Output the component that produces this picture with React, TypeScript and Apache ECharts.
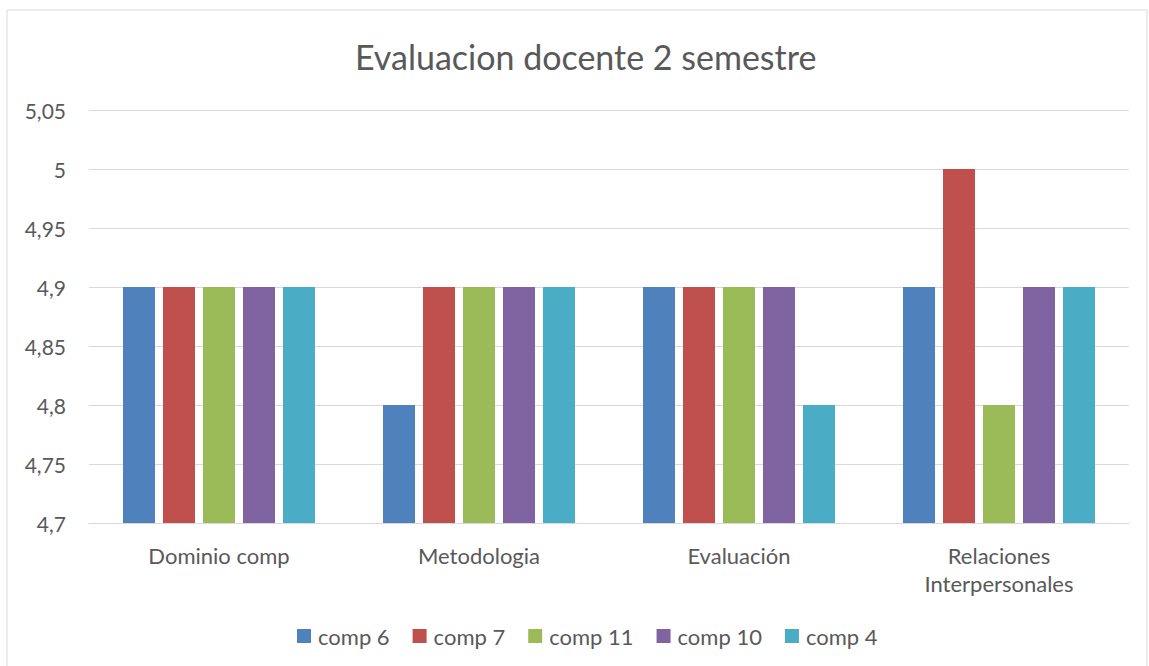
import React, { useEffect, useRef } from "react";
import * as echarts from "echarts";

const categories = ["Dominio comp", "Metodologia", "Evaluación", "Relaciones\nInterpersonales"];
const seriesNames = ["comp 6", "comp 7", "comp 11", "comp 10", "comp 4"];
const comp6 = [4.9, 4.8, 4.9, 4.9];
const comp7 = [4.9, 4.9, 4.9, 5.0];
const comp11 = [4.9, 4.9, 4.9, 4.8];
const comp10 = [4.9, 4.9, 4.9, 4.9];
const comp4 = [4.9, 4.9, 4.8, 4.9];
const seriesValues = [comp6, comp7, comp11, comp10, comp4];
const colors = ["#4F81BD", "#C0504D", "#9BBB59", "#8064A2", "#4BACC6"];

export default function App() {
  const ref = useRef<HTMLDivElement>(null);
  useEffect(() => {
    const chart = echarts.init(ref.current!, undefined, { renderer: "svg" });
    const font = "Lato, 'Open Sans', sans-serif";
    chart.setOption({
      animation: false,
      backgroundColor: "#ffffff",
      textStyle: { fontFamily: font },
      title: {
        text: "Evaluacion docente 2 semestre",
        left: 350,
        top: 34,
        textStyle: { fontSize: 34, fontWeight: "normal", color: "#595959", fontFamily: font },
      },
      graphic: [
        {
          type: "rect",
          shape: { x: 7, y: 10, width: 1140, height: 670 },
          style: { fill: "none", stroke: "#d9d9d9", lineWidth: 1 },
          silent: true,
          z: -1,
        },
      ],
      legend: {
        bottom: 19,
        left: 297,
        itemWidth: 14,
        itemHeight: 14,
        itemGap: 23,
        icon: "rect",
        padding: 0,
        textStyle: { fontSize: 22, color: "#595959", fontFamily: font, padding: [0, 0, 0, 2] },
        data: seriesNames,
      },
      grid: { left: 89, right: 20, top: 110, bottom: 143 },
      xAxis: {
        type: "category",
        data: categories,
        axisLine: { lineStyle: { color: "#d9d9d9", width: 1 } },
        axisTick: { show: false },
        axisLabel: { fontSize: 22, color: "#595959", margin: 18, lineHeight: 28, fontFamily: font },
      },
      yAxis: {
        type: "value",
        min: 4.7,
        max: 5.05,
        interval: 0.05,
        axisLine: { show: false },
        axisTick: { show: false },
        splitLine: { lineStyle: { color: "#d9d9d9", width: 1 } },
        axisLabel: {
          fontSize: 21,
          color: "#595959",
          margin: 23,
          fontFamily: font,
          formatter: (v: number) => {
            const s = parseFloat(v.toFixed(2)).toString();
            return s.replace(".", ",");
          },
        },
      },
      series: seriesNames.map((name, i) => ({
        name,
        type: "bar",
        data: seriesValues[i],
        barWidth: 32,
        barGap: "25%",
        itemStyle: { color: colors[i] },
      })),
    });
    return () => chart.dispose();
  }, []);
  return (
    <div
      ref={ref}
      style={{ position: "absolute", left: 0, top: 0, width: 1149, height: 666 }}
    />
  );
}
